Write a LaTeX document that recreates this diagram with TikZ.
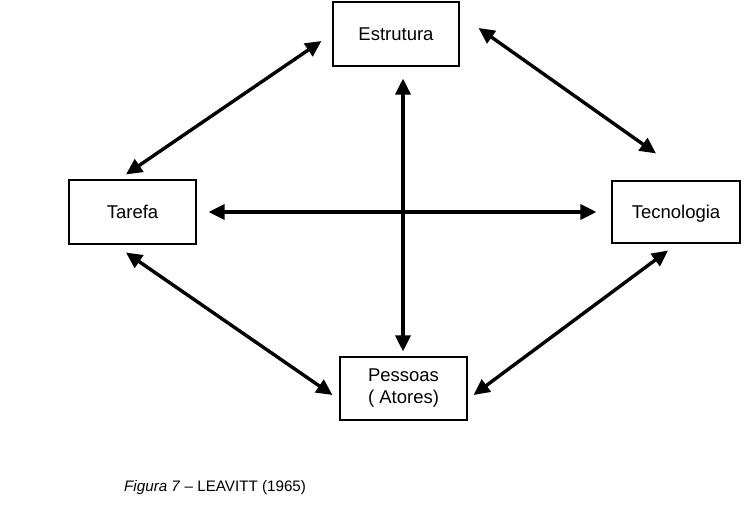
\documentclass[tikz,border=0pt]{standalone}
\usepackage{fontspec}
\setmainfont{Liberation Sans}
\usetikzlibrary{arrows.meta}
\begin{document}
\begin{tikzpicture}[x=1pt,y=-1pt,
  box/.style={draw, line width=1.1pt, inner sep=0pt, align=center,
              font=\fontsize{18.5}{22}\selectfont},
  oneline/.style={text height=13pt, text depth=0pt},
  link/.style={line width=3.4pt,
               {Triangle[length=16pt,width=15pt]}-{Triangle[length=16pt,width=15pt]}}]
  \useasboundingbox (0,0) rectangle (745,518);

  % the four components
  \node[box, oneline, minimum width=126pt, minimum height=64pt] (est) at (396,34) {Estrutura};
  \node[box, oneline, minimum width=127pt, minimum height=64pt] (tar) at (132.5,212) {Tarefa};
  \node[box, oneline, minimum width=128pt, minimum height=62pt] (tec) at (676,212) {Tecnologia};
  \node[box, minimum width=127pt, minimum height=63pt] (pes) at (403.5,388.5) {Pessoas\\( Atores)};

  % mutual dependencies
  \draw[link] ([shift={(-11,7)}]est.west) -- ([shift={(-6.5,-5)}]tar.north);
  \draw[link] ([shift={(19,-6)}]est.east) -- ([shift={(-20,-27)}]tec.north);
  \draw[link] ([shift={(12,0)}]tar.east) -- ([shift={(-15,0)}]tec.west);
  \draw[link] ([shift={(7,12)}]est.south) -- ([shift={(-0.5,-5)}]pes.north);
  \draw[link] ([shift={(-6.5,8)}]tar.south) -- ([shift={(-7,6.5)}]pes.west);
  \draw[link] ([shift={(-8,7)}]tec.south) -- ([shift={(6,6.5)}]pes.east);

  % caption
  \node[anchor=west, inner sep=0pt, font=\fontsize{15.2}{18}\selectfont] (cap) at (124,488)
    {\textit{Figura 7} – LEAVITT (1965)};
\end{tikzpicture}
\end{document}
